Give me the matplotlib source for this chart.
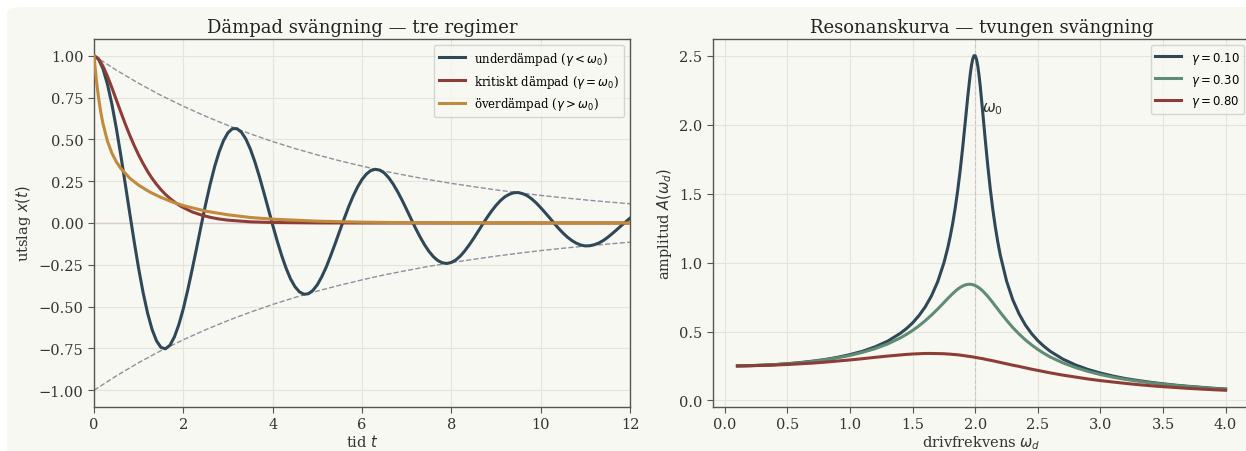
import matplotlib
matplotlib.use("Agg")
import matplotlib.pyplot as plt
from matplotlib.patches import FancyBboxPatch
from matplotlib.ticker import MultipleLocator

plt.rcParams['font.family'] = ['DejaVu Serif', 'DejaVu Sans']

# left panel: damped oscillation
t_under = [0.0, 0.1, 0.2, 0.3, 0.4, 0.5, 0.6, 0.7, 0.8, 0.9,
           1.0, 1.1, 1.2, 1.3, 1.4, 1.5, 1.6, 1.7, 1.8, 1.9,
           2.0, 2.1, 2.2, 2.3, 2.4, 2.5, 2.6, 2.7, 2.8, 2.9,
           3.0, 3.1, 3.2, 3.3, 3.4, 3.5, 3.6, 3.7, 3.8, 3.9,
           4.0, 4.1, 4.2, 4.3, 4.4, 4.5, 4.6, 4.7, 4.8, 4.9,
           5.0, 5.1, 5.2, 5.3, 5.4, 5.5, 5.6, 5.7, 5.8, 5.9,
           6.0, 6.1, 6.2, 6.3, 6.4, 6.5, 6.6, 6.7, 6.8, 6.9,
           7.0, 7.1, 7.2, 7.3, 7.4, 7.5, 7.6, 7.7, 7.8, 7.9,
           8.0, 8.1, 8.2, 8.3, 8.4, 8.5, 8.6, 8.7, 8.8, 8.9,
           9.0, 9.1, 9.2, 9.3, 9.4, 9.5, 9.6, 9.7, 9.8, 9.9,
           10.0, 10.1, 10.2, 10.3, 10.4, 10.5, 10.6, 10.7, 10.8, 10.9,
           11.0, 11.1, 11.2, 11.3, 11.4, 11.5, 11.6, 11.7, 11.8, 11.9,
           12.0]
x_under = [1.000, 0.980, 0.923, 0.831, 0.711, 0.566, 0.405, 0.233, 0.059, -0.112,
           -0.273, -0.417, -0.539, -0.636, -0.705, -0.744, -0.752, -0.731, -0.681, -0.607,
           -0.512, -0.399, -0.275, -0.146, -0.014, 0.113, 0.231, 0.336, 0.424, 0.493,
           0.540, 0.564, 0.564, 0.543, 0.502, 0.442, 0.367, 0.280, 0.185, 0.087,
           -0.012, -0.106, -0.193, -0.270, -0.334, -0.381, -0.412, -0.426, -0.423, -0.403,
           -0.369, -0.321, -0.263, -0.195, -0.123, -0.048, 0.025, 0.096, 0.160, 0.215,
           0.260, 0.293, 0.314, 0.321, 0.316, 0.299, 0.270, 0.232, 0.186, 0.135,
           0.080, 0.024, -0.032, -0.083, -0.130, -0.170, -0.202, -0.225, -0.238, -0.242,
           -0.236, -0.221, -0.198, -0.167, -0.131, -0.092, -0.050, -0.008, 0.033, 0.071,
           0.105, 0.134, 0.157, 0.172, 0.181, 0.182, 0.175, 0.163, 0.144, 0.120,
           0.092, 0.062, 0.031, -0.001, -0.032, -0.060, -0.085, -0.105, -0.121, -0.132,
           -0.137, -0.136, -0.130, -0.120, -0.105, -0.086, -0.064, -0.041, -0.017, 0.006,
           0.029]

t_crit = [0.0, 0.1, 0.2, 0.3, 0.4, 0.5, 0.6, 0.7, 0.8, 0.9, 1.0, 1.1, 1.2, 1.3,
          1.4, 1.5, 1.6, 1.7, 1.8, 1.9, 2.0, 2.2, 2.4, 2.6, 2.8, 3.0, 3.5, 4.0,
          5.0, 6.0, 8.0, 10.0, 12.0]
x_crit = [1.000, 0.982, 0.938, 0.878, 0.809, 0.736, 0.663, 0.592, 0.525, 0.463,
          0.406, 0.355, 0.308, 0.267, 0.231, 0.199, 0.171, 0.147, 0.126, 0.107,
          0.092, 0.066, 0.048, 0.034, 0.024, 0.017, 0.007, 0.003, 0.0005, 0.0001,
          0.0, 0.0, 0.0]

t_over = [0.0, 0.05, 0.1, 0.15, 0.2, 0.3, 0.4, 0.5, 0.6, 0.8, 1.0, 1.25, 1.5, 1.75,
          2.0, 2.5, 3.0, 3.5, 4.0, 5.0, 6.0, 7.0, 8.0, 10.0, 12.0]
x_over = [1.000, 0.862, 0.753, 0.665, 0.595, 0.490, 0.418, 0.366, 0.326, 0.268,
          0.226, 0.185, 0.153, 0.126, 0.104, 0.071, 0.049, 0.033, 0.023, 0.011,
          0.005, 0.002, 0.001, 0.0, 0.0]

t_env = [0.0, 0.5, 1.0, 1.5, 2.0, 2.5, 3.0, 3.5, 4.0, 4.5, 5.0, 5.5, 6.0, 6.5, 7.0,
         7.5, 8.0, 8.5, 9.0, 9.5, 10.0, 10.5, 11.0, 11.5, 12.0]
env = [1.000, 0.914, 0.835, 0.763, 0.698, 0.638, 0.583, 0.533, 0.487, 0.445,
       0.407, 0.372, 0.340, 0.310, 0.284, 0.259, 0.237, 0.217, 0.198, 0.181,
       0.165, 0.151, 0.138, 0.126, 0.115]

# right panel: resonance curves
omega = [0.1, 0.2, 0.3, 0.4, 0.5, 0.6, 0.7, 0.8, 0.9, 1.0, 1.1, 1.2, 1.3, 1.4,
         1.45, 1.5, 1.55, 1.6, 1.65, 1.7, 1.75, 1.78, 1.8, 1.82, 1.84, 1.86, 1.88,
         1.9, 1.92, 1.94, 1.96, 1.97, 1.98, 1.99, 2.0, 2.01, 2.02, 2.03, 2.04,
         2.06, 2.08, 2.1, 2.12, 2.14, 2.16, 2.18, 2.2, 2.25, 2.3, 2.35, 2.4, 2.45,
         2.5, 2.55, 2.6, 2.7, 2.8, 2.9, 3.0, 3.1, 3.2, 3.3, 3.4, 3.5, 3.6, 3.7,
         3.8, 3.9, 4.0]
amp_010 = [0.251, 0.253, 0.256, 0.260, 0.267, 0.275, 0.285, 0.297, 0.313, 0.333,
           0.357, 0.389, 0.430, 0.486,
           0.521, 0.563, 0.615, 0.678, 0.758, 0.861, 0.999, 1.105, 1.189,
           1.285, 1.396, 1.524, 1.671,
           1.837, 2.017, 2.201, 2.365, 2.430, 2.476, 2.500, 2.500, 2.475, 2.428,
           2.361, 2.279,
           2.089, 1.891, 1.704, 1.535, 1.388, 1.260, 1.150, 1.055,
           0.867, 0.730, 0.628, 0.548, 0.485,
           0.434, 0.392, 0.356, 0.300, 0.258, 0.225, 0.199, 0.177, 0.159, 0.145,
           0.132, 0.121, 0.111, 0.103,
           0.096, 0.089, 0.083]
amp_030 = [0.251, 0.252, 0.256, 0.260, 0.266, 0.273, 0.283, 0.295, 0.309, 0.327,
           0.349, 0.376, 0.410, 0.453,
           0.479, 0.508, 0.541, 0.578, 0.619, 0.663, 0.710, 0.739, 0.757,
           0.775, 0.792, 0.807, 0.820,
           0.830, 0.838, 0.842, 0.843, 0.842, 0.840, 0.837, 0.833, 0.829, 0.823,
           0.817, 0.810,
           0.794, 0.775, 0.755, 0.733, 0.710, 0.686, 0.663, 0.639,
           0.582, 0.529, 0.482, 0.440, 0.403,
           0.370, 0.341, 0.315, 0.273, 0.239, 0.211, 0.188, 0.169, 0.153, 0.140,
           0.128, 0.118, 0.109, 0.101,
           0.094, 0.087, 0.082]
amp_080 = [0.250, 0.252, 0.254, 0.257, 0.261, 0.266, 0.271, 0.278, 0.286, 0.294,
           0.303, 0.313, 0.322, 0.330,
           0.334, 0.337, 0.339, 0.341, 0.341, 0.340, 0.339, 0.337, 0.336,
           0.334, 0.333, 0.331, 0.329,
           0.326, 0.324, 0.321, 0.319, 0.317, 0.316, 0.314, 0.313, 0.311, 0.309,
           0.308, 0.306,
           0.303, 0.299, 0.295, 0.292, 0.288, 0.284, 0.280, 0.276,
           0.266, 0.256, 0.247, 0.237, 0.227,
           0.218, 0.209, 0.200, 0.184, 0.170, 0.156, 0.144, 0.134, 0.124, 0.115,
           0.107, 0.100, 0.094, 0.088,
           0.083, 0.078, 0.074]
omega0 = 2.0

BG = '#f8f8f3'
C_BLUE = '#2f4858'
C_RED = '#8e3d36'
C_GOLD = '#c08b3c'
C_GREEN = '#5e8c74'
GRID = '#e4e4da'
SPINE = '#555555'

W, H = 1246, 452
fig = plt.figure(figsize=(W / 100, H / 100), dpi=100, facecolor='white')
fig.patches.append(FancyBboxPatch((7 / W, -0.5), 1.2, 0.5 + (H - 8) / H,
                                  boxstyle='round,pad=0,rounding_size=0.012',
                                  transform=fig.transFigure, facecolor=BG,
                                  edgecolor='none', zorder=-10))

ax1 = fig.add_axes([94 / W, 44 / H, 536 / W, 368 / H])
ax2 = fig.add_axes([713 / W, 44 / H, 537 / W, 368 / H])

for ax in (ax1, ax2):
    ax.set_facecolor(BG)
    ax.grid(True, color=GRID, linewidth=0.8)
    ax.set_axisbelow(True)
    for s in ax.spines.values():
        s.set_color(SPINE)
        s.set_linewidth(1.0)
    ax.tick_params(labelsize=10.5, colors='#333333', length=4, color=SPINE)

# left
ax1.axhline(0, color='#d8cccc', linewidth=1.0, zorder=1)
ax1.plot(t_env, env, '--', color='#8a929c', linewidth=1.0, zorder=2)
ax1.plot(t_env, [-v for v in env], '--', color='#8a929c', linewidth=1.0, zorder=2)
ax1.plot(t_under, x_under, color=C_BLUE, linewidth=2.2, zorder=3,
         label=r'underdämpad ($\gamma < \omega_0$)')
ax1.plot(t_crit, x_crit, color=C_RED, linewidth=2.2, zorder=3,
         label=r'kritiskt dämpad ($\gamma = \omega_0$)')
ax1.plot(t_over, x_over, color=C_GOLD, linewidth=2.2, zorder=3,
         label=r'överdämpad ($\gamma > \omega_0$)')
ax1.set_xlim(0, 12)
ax1.set_ylim(-1.1, 1.1)
ax1.xaxis.set_major_locator(MultipleLocator(2))
ax1.yaxis.set_major_locator(MultipleLocator(0.25))
ax1.set_title('Dämpad svängning — tre regimer', fontsize=13, pad=5, color='#222222')
ax1.set_xlabel(r'tid $t$', fontsize=10.5, color='#333333', labelpad=1)
ax1.set_ylabel(r'utslag $x(t)$', fontsize=10.5, color='#333333')
leg1 = ax1.legend(loc='upper right', fontsize=8.5, frameon=True, fancybox=True,
                  handlelength=2.2)
leg1.get_frame().set_facecolor(BG)
leg1.get_frame().set_edgecolor('#cccccc')

# right
ax2.axvline(omega0, color='#d0c4c4', linestyle='--', linewidth=0.8, zorder=1)
ax2.plot(omega, amp_010, color=C_BLUE, linewidth=2.2, label=r'$\gamma = 0.10$')
ax2.plot(omega, amp_030, color=C_GREEN, linewidth=2.2, label=r'$\gamma = 0.30$')
ax2.plot(omega, amp_080, color=C_RED, linewidth=2.2, label=r'$\gamma = 0.80$')
ax2.text(omega0 + 0.05, 2.1, r'$\omega_0$', fontsize=11, color='#333333')
ax2.xaxis.set_major_locator(MultipleLocator(0.5))
ax2.yaxis.set_major_locator(MultipleLocator(0.5))
ax2.set_title('Resonanskurva — tvungen svängning', fontsize=13, pad=5,
              color='#222222')
ax2.set_xlabel(r'drivfrekvens $\omega_d$', fontsize=10.5, color='#333333', labelpad=1)
ax2.set_ylabel(r'amplitud $A(\omega_d)$', fontsize=10.5, color='#333333')
leg2 = ax2.legend(loc='upper right', fontsize=8.5, frameon=True, fancybox=True,
                  handlelength=2.2)
leg2.get_frame().set_facecolor(BG)
leg2.get_frame().set_edgecolor('#cccccc')

fig.savefig('out.png', dpi=100, facecolor='white')
